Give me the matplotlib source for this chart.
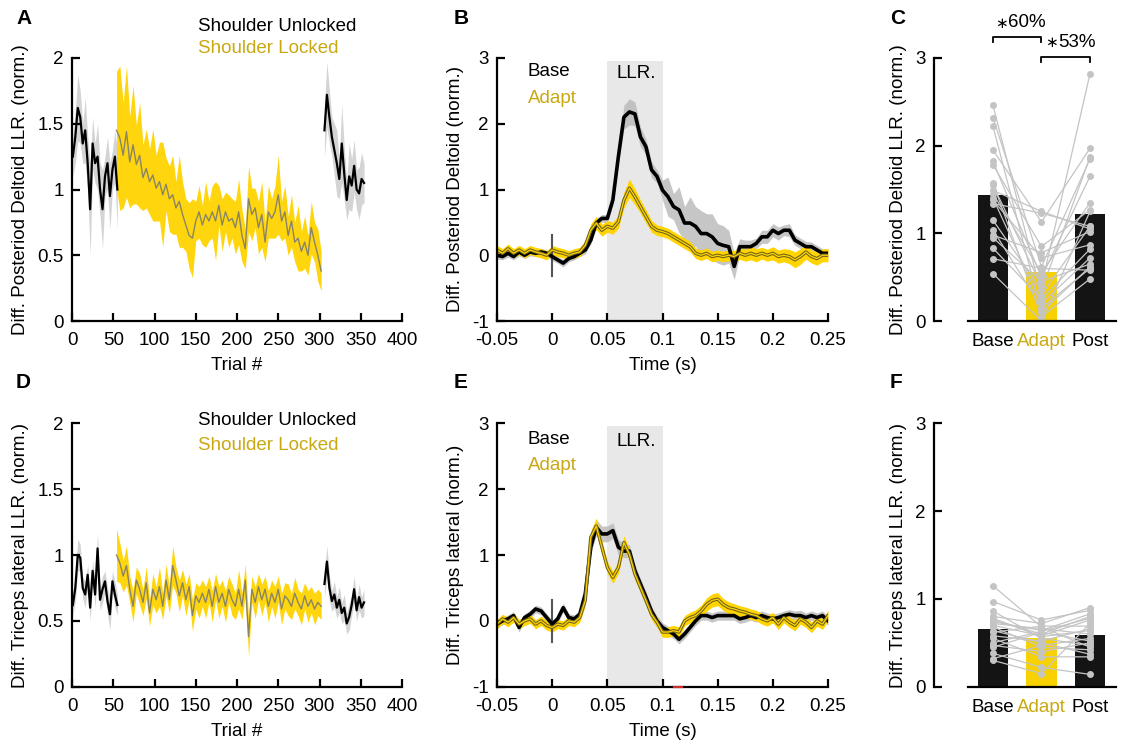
import numpy as np
import matplotlib
matplotlib.use("Agg")
import matplotlib.pyplot as plt

plt.rcParams['font.family'] = ['Liberation Sans', 'DejaVu Sans']
plt.rcParams['font.size'] = 13.5

# ---------------- data ----------------
trials_base = np.arange(1, 56, 3)
trials_lock = np.arange(54, 303, 4)
trials_post = np.arange(306, 355, 3)

A_base = [1.25, 1.40, 1.62, 1.55, 1.35, 1.45, 1.20, 0.85, 1.35, 1.20, 1.25, 1.00, 0.85, 1.10, 1.20, 0.95, 1.15, 1.25, 1.00]
A_base_sem = [0.15, 0.2, 0.25, 0.2, 0.15, 0.25, 0.2, 0.35, 0.2, 0.15, 0.25, 0.2, 0.3, 0.15, 0.2, 0.25, 0.15, 0.2, 0.3]
A_lock = [1.45,
          1.39, 1.26, 1.44, 1.21, 1.34, 1.19, 1.26, 1.09, 1.16, 1.06,
          1.11, 1.01, 1.06, 0.96, 1.04, 0.93, 0.96, 0.86, 0.91, 0.81,
          0.73, 0.65, 0.63, 0.76, 0.83, 0.73, 0.81, 0.76, 0.83, 0.76,
          0.88, 0.73, 0.83, 0.76, 0.78, 0.71,
          0.83, 0.65, 0.55, 0.93, 0.81, 0.86, 0.71, 0.81, 0.60, 0.83,
          0.78, 0.83, 0.96, 0.76, 0.83, 0.65, 0.76, 0.60, 0.63, 0.53,
          0.60, 0.50, 0.71, 0.60, 0.50, 0.38]
A_lock_sem = [0.45, 0.55, 0.4, 0.5, 0.35, 0.45, 0.3, 0.4, 0.25, 0.3,
              0.25, 0.35, 0.25, 0.3, 0.4, 0.2, 0.25, 0.3, 0.2, 0.35,
              0.25, 0.2, 0.25, 0.3, 0.15, 0.2, 0.15, 0.25, 0.15, 0.2,
              0.3, 0.15, 0.2, 0.15, 0.2, 0.15, 0.2, 0.25, 0.2, 0.15,
              0.25, 0.2, 0.15, 0.2, 0.25, 0.15, 0.2, 0.15, 0.2, 0.3,
              0.15, 0.2, 0.15, 0.2, 0.15, 0.25, 0.15, 0.2, 0.15, 0.2,
              0.15, 0.2, 0.15]
A_post = [1.45, 1.72, 1.55, 1.40, 1.30, 1.20, 1.08, 1.35, 1.12, 0.92, 1.10, 1.03, 1.18, 1.00, 0.97, 1.08, 1.05]
A_post_sem = [0.2, 0.25, 0.2, 0.15, 0.2, 0.25, 0.15, 0.3, 0.2, 0.15, 0.25, 0.2, 0.2, 0.15, 0.2, 0.2, 0.15]

D_base = [0.62, 0.75, 1.00, 0.98, 0.75, 0.70, 0.85, 0.60, 0.88, 0.70, 1.05, 0.66, 0.74, 0.80, 0.65, 0.55, 0.80, 0.70, 0.62]
D_base_sem = [0.08, 0.1, 0.12, 0.1, 0.08, 0.1, 0.08, 0.1, 0.08, 0.1, 0.12, 0.08, 0.1, 0.08, 0.1, 0.12, 0.08, 0.1, 0.08]
D_lock = [1.00,
          0.94, 0.84, 0.92, 0.74, 0.61, 0.81, 0.74, 0.64, 0.79, 0.56,
          0.74, 0.66, 0.76, 0.61, 0.81, 0.66, 0.92, 0.81, 0.69, 0.79,
          0.66, 0.76, 0.54, 0.69, 0.64, 0.71, 0.64, 0.74, 0.61, 0.76,
          0.64, 0.71, 0.61, 0.74, 0.66, 0.61,
          0.74, 0.61, 0.81, 0.38, 0.74, 0.64, 0.76, 0.66, 0.74, 0.61,
          0.71, 0.64, 0.74, 0.59, 0.69, 0.66, 0.61, 0.71, 0.64, 0.59,
          0.69, 0.61, 0.66, 0.59, 0.64, 0.61]
D_lock_sem = [0.2, 0.15, 0.12, 0.15, 0.1, 0.12, 0.1, 0.12, 0.1, 0.12,
              0.1, 0.12, 0.1, 0.15, 0.1, 0.12, 0.1, 0.15, 0.1, 0.12,
              0.1, 0.12, 0.1, 0.12, 0.1, 0.12, 0.1, 0.12, 0.1, 0.12,
              0.1, 0.12, 0.1, 0.12, 0.1, 0.12, 0.1, 0.15, 0.1, 0.12,
              0.15, 0.1, 0.12, 0.1, 0.12, 0.1, 0.12, 0.1, 0.12, 0.1,
              0.12, 0.1, 0.12, 0.1, 0.12, 0.1, 0.12, 0.1, 0.12, 0.1,
              0.12, 0.1, 0.1]
D_post = [0.78, 0.95, 0.75, 0.65, 0.70, 0.60, 0.66, 0.56, 0.60, 0.48, 0.53, 0.62, 0.74, 0.58, 0.68, 0.60, 0.64]
D_post_sem = [0.1, 0.12, 0.1, 0.08, 0.1, 0.08, 0.1, 0.08, 0.1, 0.08, 0.1, 0.08, 0.1, 0.08, 0.1, 0.08, 0.1]

time = np.round(np.arange(-0.05, 0.2501, 0.005), 3)
B_base = [0.0, -0.02, 0.03, -0.02, 0.05, 0.0, 0.05, 0.03, 0.05, 0.03,
          -0.02,
          -0.07, -0.12, -0.05, -0.02, 0.03, 0.08, 0.23, 0.49, 0.56,
          0.56,
          0.84, 1.50, 2.10, 2.18, 2.15, 1.80, 1.65, 1.30, 1.20,
          0.99,
          0.89, 0.74, 0.69, 0.49, 0.49, 0.44, 0.33, 0.33, 0.28,
          0.18,
          0.15, 0.13, -0.17, 0.13, 0.13, 0.13, 0.18, 0.28, 0.28,
          0.38,
          0.33, 0.38, 0.38, 0.23, 0.18, 0.13, 0.13, 0.08, 0.03,
          0.03]
B_base_sem = [0.06, 0.05, 0.06, 0.05, 0.06, 0.05, 0.06, 0.05, 0.06, 0.05,
              0.06,
              0.05, 0.06, 0.05, 0.05, 0.05, 0.06, 0.06, 0.07, 0.06,
              0.06,
              0.08, 0.12, 0.18, 0.2, 0.18, 0.15, 0.12, 0.12, 0.1,
              0.15,
              0.3, 0.2, 0.35, 0.25, 0.4, 0.3, 0.35, 0.3, 0.35,
              0.3,
              0.3, 0.25, 0.2, 0.12, 0.1, 0.1, 0.08, 0.1, 0.1,
              0.1,
              0.1, 0.08, 0.1, 0.08, 0.08, 0.08, 0.07, 0.07, 0.07,
              0.07]
B_adapt = [0.08, 0.03, 0.10, 0.03, 0.08, 0.03, 0.08, 0.05, 0.03, 0.0,
           0.08,
           0.05, 0.03, 0.0, 0.03, 0.05, 0.15, 0.38, 0.49, 0.38,
           0.44,
           0.41, 0.51, 0.84, 1.02, 0.89, 0.74, 0.59, 0.44, 0.38,
           0.36,
           0.33, 0.28, 0.23, 0.18, 0.13, 0.03, 0.0, 0.03, -0.02,
           0.0,
           -0.02, 0.0, -0.02, 0.03, 0.0, 0.03, 0.0, 0.03, 0.0,
           0.03,
           -0.02, 0.0, -0.02, -0.07, -0.02, 0.05, -0.02, -0.05, 0.0,
           0.0]
B_adapt_sem = [0.07, 0.07, 0.07, 0.07, 0.07, 0.07, 0.07, 0.07, 0.07, 0.07,
               0.07,
               0.07, 0.07, 0.07, 0.07, 0.07, 0.08, 0.1, 0.1, 0.09,
               0.09,
               0.09, 0.1, 0.12, 0.14, 0.12, 0.1, 0.1, 0.09, 0.08,
               0.08,
               0.08, 0.08, 0.08, 0.08, 0.08, 0.08, 0.08, 0.08, 0.08,
               0.08,
               0.08, 0.08, 0.09, 0.09, 0.09, 0.1, 0.1, 0.09, 0.09,
               0.1,
               0.1, 0.1, 0.11, 0.12, 0.12, 0.11, 0.1, 0.1, 0.1,
               0.1]

E_base = [-0.05, 0.0, 0.03, 0.08, -0.10, 0.05, 0.10, 0.18, 0.15, 0.05,
          -0.05,
          0.03, 0.20, 0.05, 0.03, 0.10, 0.41, 1.12, 1.42, 1.32,
          1.32,
          1.37, 1.12, 1.06, 1.06, 0.76, 0.56, 0.36, 0.15, 0.0,
          -0.10,
          -0.15, -0.20, -0.28, -0.20, -0.10, 0.0, 0.08, 0.08, 0.05,
          0.08,
          0.08, 0.08, 0.08, 0.03, 0.05, 0.08, 0.05, 0.08, 0.05,
          0.03,
          0.05, 0.08, 0.10, 0.08, 0.08, 0.05, 0.08, 0.05, 0.08,
          0.0]
E_base_sem = [0.06, 0.06, 0.06, 0.06, 0.07, 0.06, 0.06, 0.06, 0.06, 0.06,
              0.06,
              0.06, 0.07, 0.06, 0.06, 0.06, 0.08, 0.1, 0.12, 0.12,
              0.12,
              0.12, 0.12, 0.1, 0.1, 0.1, 0.08, 0.08, 0.07, 0.07,
              0.07,
              0.07, 0.07, 0.07, 0.07, 0.07, 0.07, 0.07, 0.07, 0.07,
              0.07,
              0.07, 0.07, 0.07, 0.07, 0.07, 0.07, 0.07, 0.07, 0.07,
              0.07,
              0.07, 0.07, 0.07, 0.07, 0.08, 0.07, 0.07, 0.07, 0.07,
              0.07]
E_adapt = [-0.05, 0.03, -0.02, 0.05, -0.05, 0.0, 0.03, -0.05, 0.0, -0.07,
           -0.10,
           -0.05, -0.07, 0.0, -0.02, 0.05, 0.31, 1.27, 1.44, 1.12,
           0.81,
           0.66, 0.81, 1.19, 1.01, 0.71, 0.51, 0.31, 0.10, -0.02,
           -0.17,
           -0.17, -0.15, -0.17, 0.0, 0.05, 0.08, 0.15, 0.25, 0.31,
           0.33,
           0.25, 0.20, 0.18, 0.15, 0.13, 0.10, 0.08, 0.03, 0.0,
           0.05,
           -0.05, 0.05, -0.02, -0.07, 0.03, -0.02, -0.10, 0.0, -0.05,
           0.08]
E_adapt_sem = [0.07, 0.07, 0.07, 0.07, 0.07, 0.07, 0.07, 0.07, 0.07, 0.07,
               0.07,
               0.07, 0.07, 0.07, 0.07, 0.07, 0.08, 0.1, 0.12, 0.1,
               0.09,
               0.09, 0.09, 0.1, 0.09, 0.09, 0.08, 0.08, 0.08, 0.08,
               0.08,
               0.08, 0.08, 0.08, 0.08, 0.08, 0.09, 0.09, 0.1, 0.1,
               0.1,
               0.09, 0.09, 0.08, 0.08, 0.08, 0.08, 0.08, 0.08, 0.08,
               0.08,
               0.08, 0.08, 0.08, 0.08, 0.08, 0.08, 0.08, 0.08, 0.08,
               0.08]

conditions = ['Base', 'Adapt', 'Post']
C_bars = [1.44, 0.56, 1.22]
C_base = [2.46, 2.32, 2.22, 1.95, 1.82, 1.78, 1.57, 1.55, 1.49, 1.45, 1.40, 1.38, 1.34, 1.15, 1.04, 0.98, 0.95, 0.83, 0.71, 0.54]
C_adapt = [0.30, 0.62, 0.10, 1.13, 0.50, 0.85, 0.05, 0.40, 1.25, 0.55, 0.20, 0.72, 1.23, 0.35, 0.15, 0.78, 0.45, 0.25, 0.60, 0.00]
C_post = [1.08, 1.85, 0.62, 1.97, 1.65, 1.27, 0.48, 2.82, 1.05, 1.35, 0.72, 0.87, 1.08, 1.87, 0.60, 1.02, 0.65, 0.82, 0.58, 1.25]
F_bars = [0.66, 0.56, 0.59]
F_base = [1.15, 0.97, 0.86, 0.80, 0.76, 0.72, 0.68, 0.64, 0.55, 0.50, 0.47, 0.38, 0.32, 0.30, 0.62, 0.70, 0.74, 0.78, 0.58, 0.45]
F_adapt = [0.68, 0.76, 0.55, 0.72, 0.60, 0.66, 0.45, 0.50, 0.34, 0.63, 0.40, 0.22, 0.47, 0.15, 0.69, 0.58, 0.64, 0.57, 0.52, 0.62]
F_post = [0.45, 0.87, 0.47, 0.90, 0.80, 0.60, 0.42, 0.37, 0.34, 0.78, 0.50, 0.14, 0.55, 0.72, 0.69, 0.76, 0.83, 0.64, 0.66, 0.52]
C_sig = ['60%', '53%']

# ---------------- style ----------------
YEL = '#FFD400'
YEL_TXT = '#C9A812'
BAND_GRAY = '#B8B8B8'

fig = plt.figure(figsize=(11.29, 7.45), dpi=100)
W, H = 1129, 745


def ax_px(l, r, t, b):
    return fig.add_axes([l / W, 1 - b / H, (r - l) / W, (b - t) / H])


def style(ax):
    for s in ['top', 'right']:
        ax.spines[s].set_visible(False)
    for s in ['left', 'bottom']:
        ax.spines[s].set_linewidth(1.6)
    ax.tick_params(direction='in', length=6, width=1.6, labelsize=13.5, pad=6)
    ax.tick_params(axis='x', pad=8)


def trial_panel(ax, base, base_sem, lock, lock_sem, post, post_sem, ylabel):
    for tr, m, s in [(trials_base, base, base_sem), (trials_post, post, post_sem)]:
        m = np.array(m); s = np.array(s)
        ax.fill_between(tr, m - s, m + s, color=BAND_GRAY, alpha=0.6, lw=0)
        ax.plot(tr, m, color='black', lw=1.6)
    m = np.array(lock); s = np.array(lock_sem)
    ax.fill_between(trials_lock, m - s, m + s, color=YEL, alpha=0.95, lw=0)
    ax.plot(trials_lock, m, color='#8a8466', lw=1.0)
    ax.set_xlim(0, 400)
    ax.set_ylim(0, 2)
    ax.set_xticks(np.arange(0, 401, 50))
    ax.set_yticks([0, 0.5, 1, 1.5, 2])
    ax.set_yticklabels(['0', '0.5', '1', '1.5', '2'])
    ax.set_xlabel('Trial #', fontsize=13.5, labelpad=6)
    ax.set_ylabel(ylabel, fontsize=13.5, labelpad=6)
    style(ax)


def time_panel(ax, base, base_sem, adapt, adapt_sem, ylabel, txt_y):
    ax.axvspan(0.05, 0.1, ymin=0, ymax=0.99, color='#E8E8E8', lw=0, zorder=0)
    b = np.array(base); bs = np.array(base_sem)
    a = np.array(adapt); as_ = np.array(adapt_sem)
    ax.fill_between(time, b - bs, b + bs, color=BAND_GRAY, alpha=0.8, lw=0)
    ax.plot([0, 0], [-0.32, 0.31], color='#555555', lw=1.5)
    ax.plot(time, b, color='black', lw=2.6)
    ax.fill_between(time, a - as_, a + as_, color=YEL, alpha=1.0, lw=0)
    ax.plot(time, a, color='#6b6020', lw=2.4)
    ax.plot(time, a, color=YEL, lw=0.9)
    ax.set_xlim(-0.05, 0.25)
    ax.set_ylim(-1, 3)
    ax.set_xticks([-0.05, 0, 0.05, 0.1, 0.15, 0.2, 0.25])
    ax.set_xticklabels(['-0.05', '0', '0.05', '0.1', '0.15', '0.2', '0.25'])
    ax.set_yticks([-1, 0, 1, 2, 3])
    ax.set_yticklabels(['-1', '0', '1', '2', '3'])
    ax.set_xlabel('Time (s)', fontsize=13.5, labelpad=6)
    ax.set_ylabel(ylabel, fontsize=13.5, labelpad=6)
    ax.text(-0.022, txt_y[0], 'Base', color='black', fontsize=13.5, va='center')
    ax.text(-0.022, txt_y[1], 'Adapt', color=YEL_TXT, fontsize=13.5, va='center')
    ax.text(0.076, txt_y[2], 'LLR.', color='black', fontsize=13.5, va='center', ha='center')
    style(ax)


def bar_panel(ax, bars, base, adapt, post, ylabel):
    x = np.arange(1, 4)
    ax.bar(x, bars, width=0.62, color=['#141414', '#F8D200', '#141414'], zorder=1)
    for v in zip(base, adapt, post):
        ax.plot(x, v, color='#C4C4C4', lw=0.9, marker='o', ms=4, mfc='#C4C4C4', mec='#C4C4C4', zorder=2)
    ax.set_xlim(-0.216, 3.536)
    ax.set_ylim(0, 3)
    ax.set_yticks([0, 1, 2, 3])
    ax.set_yticklabels(['0', '1', '2', '3'])
    ax.set_xticks(x)
    ax.set_xticklabels(conditions)
    style(ax)
    ax.spines['bottom'].set_bounds(0.485, 3.536)
    ax.tick_params(axis='x', length=0, pad=9)
    ax.get_xticklabels()[1].set_color(YEL_TXT)
    ax.set_ylabel(ylabel, fontsize=13.5, labelpad=6)


# A
axA = ax_px(72, 402, 58, 321)
trial_panel(axA, A_base, A_base_sem, A_lock, A_lock_sem, A_post, A_post_sem,
            'Diff. Posteriod Deltoid LLR. (norm.)')
axA.text(153, 2.24, 'Shoulder Unlocked', color='black', fontsize=13.5, va='center', clip_on=False)
axA.text(153, 2.07, 'Shoulder Locked', color=YEL_TXT, fontsize=13.5, va='center', clip_on=False)

# D
axD = ax_px(72, 402, 423.3, 686.7)
trial_panel(axD, D_base, D_base_sem, D_lock, D_lock_sem, D_post, D_post_sem,
            'Diff. Triceps lateral LLR. (norm.)')
axD.text(153, 2.02, 'Shoulder Unlocked', color='black', fontsize=13.5, va='center', clip_on=False)
axD.text(153, 1.83, 'Shoulder Locked', color=YEL_TXT, fontsize=13.5, va='center', clip_on=False)

# B
axB = ax_px(497, 828, 58, 321)
time_panel(axB, B_base, B_base_sem, B_adapt, B_adapt_sem, 'Diff. Posteriod Deltoid (norm.)',
           (2.79, 2.39, 2.76))

# E
axE = ax_px(497, 828, 423.3, 686.7)
time_panel(axE, E_base, E_base_sem, E_adapt, E_adapt_sem, 'Diff. Triceps lateral (norm.)',
           (2.75, 2.36, 2.72))
axE.plot([0.11, 0.118], [-1, -1], color='#D03030', lw=1.6, clip_on=False, zorder=5)

# C
axC = ax_px(934, 1116, 58, 321)
bar_panel(axC, C_bars, C_base, C_adapt, C_post, 'Diff. Posteriod Deltoid LLR. (norm.)')
axC.plot([1, 1, 2, 2], [3.18, 3.24, 3.24, 3.18], color='black', lw=1.3, clip_on=False)
axC.plot([2, 2, 3, 3], [2.95, 3.01, 3.01, 2.95], color='black', lw=1.3, clip_on=False)
axC.text(1.165, 3.39, '\u2217', fontsize=11, ha='center', va='center', clip_on=False)
axC.text(1.70, 3.40, C_sig[0], fontsize=13.5, ha='center', va='center', clip_on=False)
axC.text(2.20, 3.17, '\u2217', fontsize=11, ha='center', va='center', clip_on=False)
axC.text(2.74, 3.18, C_sig[1], fontsize=13.5, ha='center', va='center', clip_on=False)

# F
axF = ax_px(934, 1116, 423.3, 686.7)
bar_panel(axF, F_bars, F_base, F_adapt, F_post, 'Diff. Triceps lateral LLR. (norm.)')

# panel letters
for lab, (px, py) in {'A': (16, 18), 'B': (454, 18), 'C': (890, 18),
                      'D': (16, 383), 'E': (454, 383), 'F': (890, 383)}.items():
    fig.text(px / W, 1 - py / H, lab, fontsize=15, fontweight='bold', va='center', ha='left')

fig.savefig('out.png', dpi=100)
